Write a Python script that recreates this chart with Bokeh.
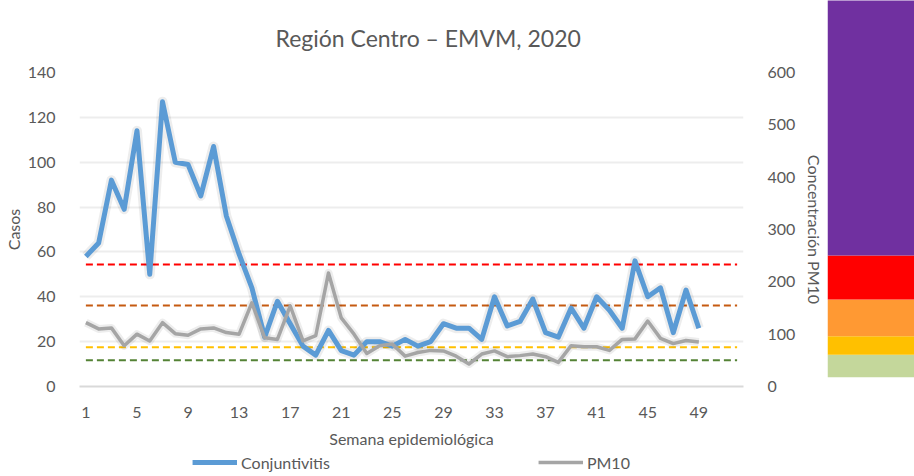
from bokeh.plotting import figure
from bokeh.models import Range1d, LinearAxis, Legend, LegendItem, FixedTicker, ColumnDataSource
from bokeh.layouts import row, column
from bokeh.embed import file_html
from bokeh.resources import INLINE

# ---------------- data ----------------
weeks = list(range(1, 50))
conjuntivitis = [58, 64, 92, 79, 114, 50, 127, 100, 99, 85, 107, 76, 59, 44, 22, 38, 28, 18, 14, 25,
                 16, 14, 20, 20, 18, 21, 18, 20, 28, 26, 26, 21, 40, 27, 29, 39, 24, 22, 35, 26,
                 40, 34, 26, 56, 40, 44, 24, 43, 26]
pm10 = [122, 110, 112, 78, 100, 87, 122, 101, 98, 110, 112, 103, 100, 160, 93, 90, 154, 87, 97, 217,
        131, 100, 63, 78, 81, 58, 65, 69, 68, 58, 43, 62, 68, 57, 59, 62, 57, 46, 78, 76,
        76, 69, 90, 91, 125, 92, 82, 88, 85]
threshold_weeks = [1, 52]
thresholds = [50, 75, 155, 233]
threshold_colors = ["#548235", "#FFC000", "#C55A11", "#FF0000"]
x_ticks = list(range(1, 50, 4))
left_ticks = list(range(0, 141, 20))
right_ticks = list(range(0, 601, 100))
band_edges = [17, 60, 95, 165, 249, 740]
band_colors = ["#C4D79B", "#FFC000", "#FF9933", "#FF0000", "#7030A0"]

FONT = "Lato"
TXT = "#595959"

p = figure(width=827, height=451, x_range=Range1d(0.5, 52.5), y_range=Range1d(0, 140),
           output_backend="svg", toolbar_location=None)
p.min_border_left = 79
p.min_border_right = 84
p.min_border_top = 71
p.min_border_bottom = 65
p.title.text = "Región Centro – EMVM, 2020"
p.title.align = "left"
p.title.offset = 196
p.title.standoff = 42
p.title.text_font = FONT
p.title.text_font_size = "23px"
p.title.text_font_style = "normal"
p.title.text_color = TXT
p.outline_line_color = None

p.extra_y_ranges = {"pm": Range1d(0, 600)}

p.xaxis.ticker = FixedTicker(ticks=x_ticks)
p.xaxis.axis_label = "Semana epidemiológica"
p.xaxis.axis_line_color = "#D9D9D9"
p.xaxis.axis_line_width = 2
p.xaxis.major_label_standoff = 14
p.xaxis.axis_label_standoff = 8

p.yaxis.ticker = FixedTicker(ticks=left_ticks)
p.yaxis.axis_label = "Casos"
p.yaxis.axis_line_color = None
p.yaxis.major_label_standoff = 18
p.yaxis.axis_label_standoff = 2

ax_r = LinearAxis(y_range_name="pm", ticker=FixedTicker(ticks=right_ticks),
                  axis_label="Concentración PM10")
ax_r.axis_line_color = None
ax_r.major_label_standoff = 18
ax_r.axis_label_standoff = 7
p.add_layout(ax_r, "right")

for ax in [p.xaxis[0], p.yaxis[0], ax_r]:
    ax.major_tick_line_color = None
    ax.minor_tick_line_color = None
    ax.major_label_text_font = FONT
    ax.major_label_text_font_size = "16px"
    ax.major_label_text_color = TXT
    ax.axis_label_text_font = FONT
    ax.axis_label_text_font_size = "16px"
    ax.axis_label_text_font_style = "normal"
    ax.axis_label_text_color = TXT

p.xgrid.grid_line_color = None
p.ygrid.ticker = FixedTicker(ticks=left_ticks[1:])
p.ygrid.grid_line_color = "#EDEDED"
p.ygrid.grid_line_width = 2

for t, c in zip(thresholds, threshold_colors):
    p.line(threshold_weeks, [t, t], y_range_name="pm", line_color=c, line_width=2, line_dash="7 4")

src = ColumnDataSource(dict(week=weeks, conj=conjuntivitis, pm=pm10))

# soft shadows under the series lines
p.line("week", "conj", source=src, line_color="#000000", line_alpha=0.07, line_width=10, line_join="round")
p.line("week", "pm", source=src, y_range_name="pm", line_color="#000000", line_alpha=0.07,
       line_width=8, line_join="round")

p.line("week", "conj", source=src, line_color="#5B9BD5", line_width=5, line_join="round")
p.line("week", "pm", source=src, y_range_name="pm", line_color="#A5A5A5", line_width=3.5,
       line_join="round")

# legend strip under the chart (same series, drawn outside its visible range)
L = figure(width=827, height=22, x_range=Range1d(0.5, 52.5), y_range=Range1d(-1000, -999),
           output_backend="svg", toolbar_location=None, min_border=0,
           x_axis_type=None, y_axis_type=None)
L.grid.visible = False
L.outline_line_color = None
l_conj = L.line("week", "conj", source=src, line_color="#5B9BD5", line_width=5)
l_pm = L.line("week", "pm", source=src, line_color="#A5A5A5", line_width=3.5)
legend = Legend(items=[LegendItem(label="Conjuntivitis", renderers=[l_conj]),
                       LegendItem(label="PM10", renderers=[l_pm])],
                orientation="horizontal", location="center", glyph_width=45, glyph_height=20,
                label_standoff=4, spacing=208, padding=0, margin=0, border_line_color=None,
                label_text_font=FONT, label_text_font_size="16px", label_text_color=TXT,
                background_fill_alpha=0)
L.add_layout(legend)

# colour scale image on the right
q = figure(width=87, height=476, x_range=Range1d(0, 1), y_range=Range1d(-172, 734.7),
           output_backend="svg", toolbar_location=None, min_border=0,
           x_axis_type=None, y_axis_type=None)
q.grid.visible = False
q.outline_line_color = None
q.quad(left=0, right=1, bottom=band_edges[:-1], top=band_edges[1:], fill_color=band_colors,
       line_color=None)

layout = row(column(p, L), q)
open("out.html", "w").write(file_html(layout, INLINE))
